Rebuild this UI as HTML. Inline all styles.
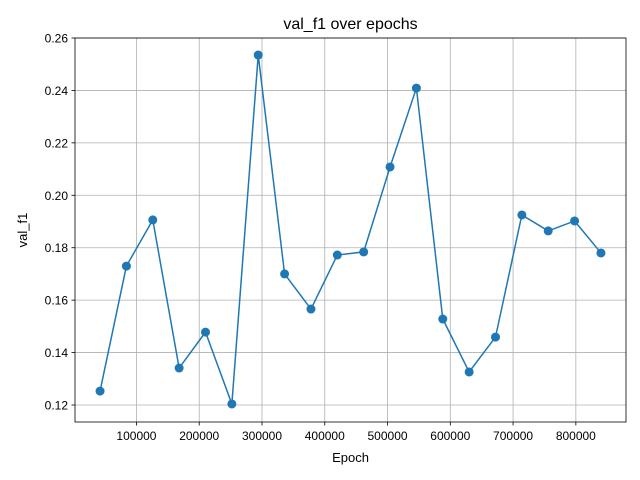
<!DOCTYPE html>
<html><head><meta charset="utf-8"><style>
body{margin:0;background:#fff;}
svg{display:block;font-family:"Liberation Sans","DejaVu Sans",sans-serif;}
</style></head><body>
<svg id="chart" width="640" height="480">
<rect x="0" y="0" width="640" height="480" fill="#fff"/>
<g id="grid"></g><g id="axes"></g><g id="series"></g>
<text x="350.5" y="29" text-anchor="middle" font-size="16">val_f1 over epochs</text>
<text x="350.5" y="462" text-anchor="middle" font-size="13">Epoch</text>
<text transform="translate(27,230) rotate(-90)" text-anchor="middle" font-size="13">val_f1</text>
</svg>
<script>
const epochs=[42000,84000,126000,168000,210000,252000,294000,336000,378000,420000,462000,504000,546000,588000,630000,672000,714000,756000,798000,840000];
const valF1=[0.1253,0.1730,0.1906,0.1341,0.1478,0.1204,0.2535,0.1700,0.1566,0.1772,0.1784,0.2108,0.2409,0.1528,0.1326,0.1459,0.1925,0.1864,0.1902,0.1780];
const xTicks=[100000,200000,300000,400000,500000,600000,700000,800000];
const yTicks=[0.12,0.14,0.16,0.18,0.20,0.22,0.24,0.26];
const NS="http://www.w3.org/2000/svg";
const L=75,R=626,T=38,B=422;
const xmin=Math.min(...epochs),xmax=Math.max(...epochs),xp=(xmax-xmin)*0.05;
const X=v=>L+(v-(xmin-xp))/((xmax+xp)-(xmin-xp))*(R-L);
const Y=v=>405-(v-0.12)/0.14*367;
function mk(tag,attrs,parent){const e=document.createElementNS(NS,tag);for(const k in attrs)e.setAttribute(k,attrs[k]);parent.appendChild(e);return e;}
const grid=document.getElementById('grid'),axes=document.getElementById('axes'),ser=document.getElementById('series');
xTicks.forEach(t=>{const x=X(t);
 let g=mk('line',{x1:x,x2:x,y1:T,y2:B,stroke:'#b0b0b0','stroke-width':0.8},grid);
 
 
 let tk=mk('line',{x1:x,x2:x,y1:B,y2:B+3.5,stroke:'#000','stroke-width':0.8},axes);
 
 
 let tx=mk('text',{x:x,y:B+18,'text-anchor':'middle','font-size':12},axes);tx.textContent=t;
 
 
});
yTicks.forEach(t=>{const y=Y(t);
 let g=mk('line',{x1:L,x2:R,y1:y,y2:y,stroke:'#b0b0b0','stroke-width':0.8},grid);
 
 
 let tk=mk('line',{x1:L-3.5,x2:L,y1:y,y2:y,stroke:'#000','stroke-width':0.8},axes);
 
 
 let tx=mk('text',{x:L-7,y:y+4.5,'text-anchor':'end','font-size':12},axes);tx.textContent=t.toFixed(2);
 
 
});
let fr=mk('rect',{x:L,y:T,width:R-L,height:B-T,fill:'none',stroke:'#000','stroke-width':0.8},axes);


let pl=mk('polyline',{points:epochs.map((e,i)=>X(e)+','+Y(valF1[i])).join(' '),fill:'none',stroke:'#1f77b4','stroke-width':1.5},ser);


epochs.forEach((e,i)=>{let c=mk('circle',{cx:X(e),cy:Y(valF1[i]),r:4.5,fill:'#1f77b4'},ser);
 
 
});
</script>
</body></html>
